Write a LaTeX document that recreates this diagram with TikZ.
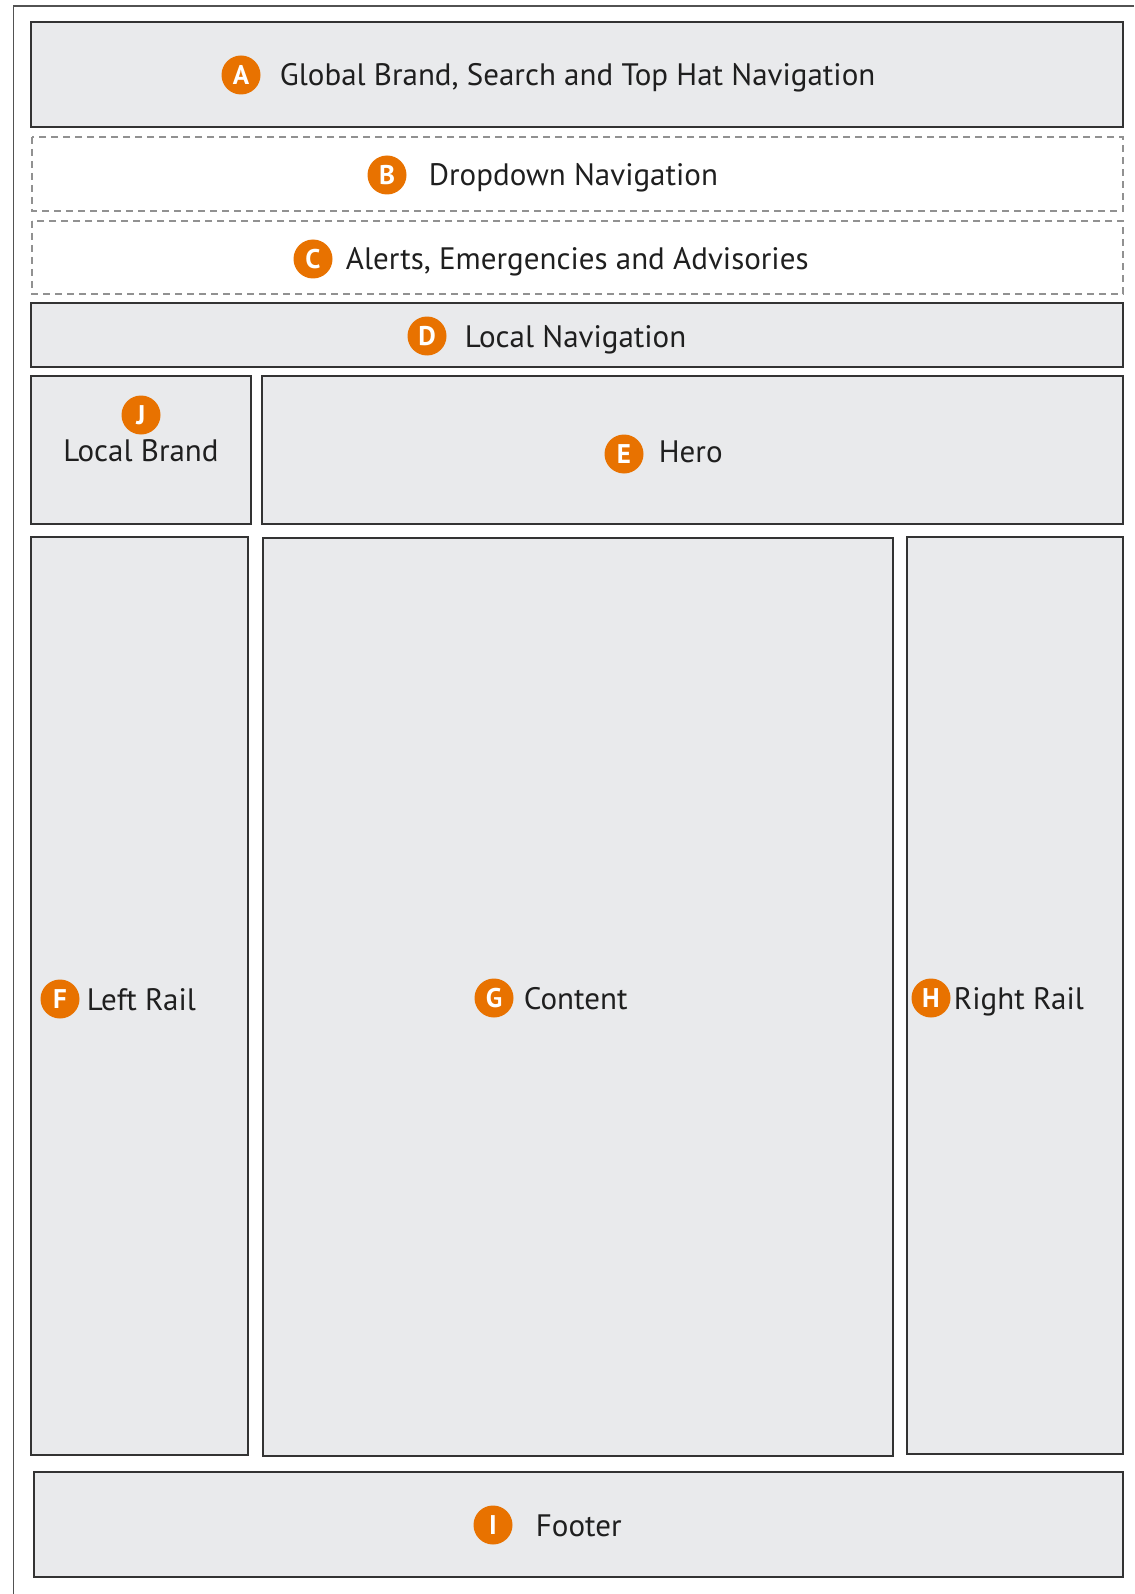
\documentclass[tikz,border=0pt]{standalone}
\usepackage{fontspec}
\setmainfont{PT Sans}
\usetikzlibrary{positioning}
\definecolor{panelgray}{RGB}{233,234,236}
\definecolor{badgeorange}{RGB}{232,114,0}
\definecolor{edgegray}{RGB}{51,51,51}
\definecolor{dashgray}{RGB}{145,145,145}

\begin{document}
\begin{tikzpicture}[x=1pt,y=-1pt,
    panel/.style={draw=edgegray,fill=panelgray,line width=1.5pt},
    slot/.style={draw=dashgray,line width=1.2pt,dash pattern=on 7pt off 5pt},
    badge/.style={circle,fill=badgeorange,text=white,inner sep=0pt,minimum size=39pt,
      text height=18.5pt,text depth=0pt,font=\fontsize{27}{27}\selectfont\bfseries},
    boxtext/.style={inner sep=0pt,text height=22pt,text depth=0pt,text=black!88,
      font=\fontsize{31}{36}\selectfont}]

    \useasboundingbox (0,0) rectangle (1134,1594);
    \draw[edgegray!85,line width=1.5pt] (1134,6) -- (13.5,6) -- (13.5,1594);

    % page regions
    \draw[panel] (31,22) rectangle (1123,127);
    \draw[slot] (32,137) rectangle (1123,211);
    \draw[slot] (32,221) rectangle (1123,294);
    \draw[panel] (31,303) rectangle (1123,367);
    \draw[panel] (31,376) rectangle (251,524);
    \draw[panel] (262,376) rectangle (1123,524);
    \draw[panel] (31,537) rectangle (248,1455);
    \draw[panel] (263,538) rectangle (893,1456);
    \draw[panel] (907,537) rectangle (1123,1454);
    \draw[panel] (34,1472) rectangle (1123,1577);

    % badges and captions
    \node[badge] (bA) at (241,75) {A};
    \node[boxtext,right=19pt of bA] (tA) {Global Brand, Search and Top Hat Navigation};
    \node[badge] (bB) at (387,175) {B};
    \node[boxtext,right=22pt of bB] (tB) {Dropdown Navigation};
    \node[badge] (bC) at (313,259) {C};
    \node[boxtext,right=13pt of bC] (tC) {Alerts, Emergencies and Advisories};
    \node[badge] (bD) at (427,336) {D};
    \node[boxtext,right=18pt of bD] (tD) {Local Navigation};
    \node[badge] (bJ) at (141,415) {J};
    \node[boxtext,below=5pt of bJ] (tJ) {Local Brand};
    \node[badge] (bE) at (624,454) {E};
    \node[boxtext,right=15pt of bE,yshift=3pt] (tE) {Hero};
    \node[badge] (bF) at (60,999) {F};
    \node[boxtext,right=7pt of bF] (tF) {Left Rail};
    \node[badge] (bG) at (494,998) {G};
    \node[boxtext,right=10pt of bG] (tG) {Content};
    \node[badge] (bH) at (931,998) {H};
    \node[boxtext,right=3pt of bH] (tH) {Right Rail};
    \node[badge] (bI) at (493,1525) {I};
    \node[boxtext,right=23pt of bI] (tI) {Footer};
  \end{tikzpicture}
\end{document}
